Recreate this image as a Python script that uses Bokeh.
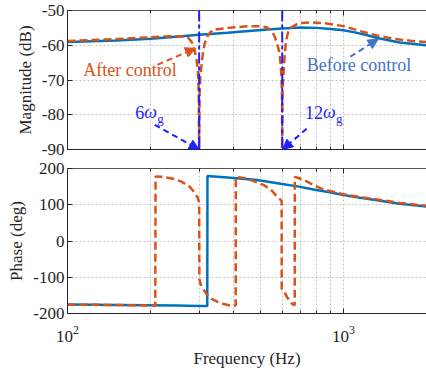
from bokeh.plotting import figure
from bokeh.models import (Range1d, LogAxis, FixedTicker, Span, Label, Arrow, NormalHead, CustomJSTickFormatter)
from bokeh.layouts import column
from bokeh.embed import file_html
from bokeh.resources import INLINE

# ---------------- data ----------------
freq_mag_before = [100, 150, 200, 235, 300, 380, 455, 530, 600, 700, 800, 900, 1000, 1100, 1200, 1340, 1600, 2000]
mag_before = [-59.1, -58.6, -58.1, -57.7, -57.0, -56.4, -55.9, -55.5, -55.2, -54.9, -55.0, -55.3, -55.7, -56.3, -57.0, -58.0, -59.2, -60.0]

freq_mag_after = [100, 150, 200, 235, 260, 275, 283, 289, 294, 297, 299, 300, 301, 303, 305, 309, 314, 322, 335, 380,
                  455, 500, 525, 540, 552, 562, 572, 583, 590, 596, 599, 600, 601, 604, 608, 613, 620, 630, 643, 690,
                  760, 860, 1000, 1160, 1340, 1540, 1750, 2000]
mag_after = [-58.8, -58.2, -57.7, -57.4, -57.5, -58.0, -59.3, -61.5, -64.5, -67.7, -74, -90, -74, -69, -66.8, -62.8, -59.5, -57.3, -55.6, -55.0,
             -54.5, -54.5, -54.8, -55.4, -56.2, -57.3, -59.0, -61.3, -64.0, -68.5, -75, -90, -75, -70.5, -67.0, -62.5, -58.6, -56.3, -55.0, -53.6,
             -53.4, -53.7, -54.5, -56.0, -57.3, -58.2, -58.7, -59.1]

freq_ph_before = [100, 150, 200, 250, 300, 321, 321.5, 370, 430, 487, 540, 600, 690, 780, 880, 1000, 1150, 1340, 1600, 2000]
ph_before = [-175.5, -176.3, -177.2, -178.0, -179.0, -179.5, 179.5, 176, 172, 168, 163, 157, 150, 142, 135, 127, 119, 112, 103, 95]

freq_ph_after = [100, 150, 200, 208, 208.5, 220, 241, 260, 277, 290, 297, 300, 300.5, 304, 310, 320, 332, 350, 365, 385,
                 407, 407.5, 437, 470, 515, 545, 568, 585, 597, 597.5, 610, 625, 640, 655, 666, 666.5, 690, 720, 780, 830,
                 900, 1000, 1150, 1340, 1600, 2000]
ph_after = [-175.5, -176.5, -178, -179, 178, 177, 172, 163, 150, 132, 118, 105, -105, -120, -132, -148, -159, -168, -173, -177,
            -178, 176, 174, 166, 154, 142, 127, 118, 110, -132, -140, -155, -167, -175, -177, 177, 173, 168, 154, 145,
            137, 129, 121, 114, 105, 97]

harmonic_freqs = [300, 600]
x_major_ticks = [100, 1000]
x_minor_ticks = [200, 300, 400, 500, 600, 700, 800, 900, 2000]
mag_ticks = [-90, -80, -70, -60, -50]
phase_ticks = [-200, -100, 0, 100, 200]

# ---------------- style ----------------
FONT = "Liberation Serif"
AX = "#262626"
BLUE = "#0072BD"
ORANGE = "#D95319"
MARK = "#1f1fff"
BEFORE_TXT = "#4472C4"
GRID = "#c4c4c4"

x_range = Range1d(100, 2000)


def style_axis(ax, labels=True):
    ax.major_label_text_font = FONT
    ax.major_label_text_color = AX
    ax.major_label_text_font_size = "17px"
    ax.axis_label_text_font = FONT
    ax.axis_label_text_font_size = "17px"
    ax.axis_label_text_font_style = "normal"
    ax.axis_label_text_color = AX
    ax.axis_line_color = AX
    ax.major_tick_in = 5
    ax.major_tick_out = 0
    ax.minor_tick_in = 3
    ax.minor_tick_out = 0
    ax.major_tick_line_color = AX
    ax.minor_tick_line_color = AX
    if not labels:
        ax.formatter = CustomJSTickFormatter(code="return ' ';")
        ax.major_label_text_font_size = "1px"
        ax.major_label_text_color = None
        ax.major_label_standoff = 0


def make_fig(height, y_range, yticks, ylabel, top, bottom, show_x_labels):
    p = figure(width=426, height=height, x_axis_type="log", x_range=x_range, y_range=y_range,
               output_backend="svg", toolbar_location=None,
               min_border_left=67, min_border_right=0, min_border_top=top, min_border_bottom=bottom)
    p.outline_line_color = None
    p.background_fill_color = "white"
    p.border_fill_color = "white"
    xt = FixedTicker(ticks=x_major_ticks, minor_ticks=x_minor_ticks)
    yt = FixedTicker(ticks=yticks, minor_ticks=[])
    bottom_ax = p.below[0]
    left_ax = p.left[0]
    bottom_ax.ticker = xt
    left_ax.ticker = yt
    p.xgrid.ticker = xt
    p.ygrid.ticker = yt
    for g in (p.xgrid, p.ygrid):
        g.grid_line_color = GRID
        g.grid_line_dash = "2 2"
        g.grid_line_width = 1
    p.xgrid.minor_grid_line_color = GRID
    p.xgrid.minor_grid_line_dash = "2 2"
    style_axis(bottom_ax, labels=show_x_labels)
    style_axis(left_ax)
    left_ax.formatter = CustomJSTickFormatter(code="return tick.toFixed(0);")
    left_ax.axis_label = ylabel
    left_ax.major_label_standoff = 3
    left_ax.axis_label_standoff = 4
    top_ax = LogAxis(ticker=xt)
    style_axis(top_ax, labels=False)
    top_ax.axis_line_color = "#555555"
    p.add_layout(top_ax, "above")
    return p, bottom_ax


# ---------------- magnitude ----------------
p1, _ = make_fig(158, Range1d(-90, -50), mag_ticks, "Magnitude (dB)", 10, 9, False)
p1.line(freq_mag_before, mag_before, line_color=BLUE, line_width=2.5)
p1.line(freq_mag_after, mag_after, line_color=ORANGE, line_width=2.5, line_dash="8 4")
for f in harmonic_freqs:
    p1.add_layout(Span(location=f, dimension="height", line_color=MARK, line_width=2, line_dash="11 3 4 3"))

p1.add_layout(Label(x=114, y=-67.0, text="After control", text_font=FONT, text_font_size="18px",
                    text_color=ORANGE, text_baseline="middle", text_align="left"))
p1.add_layout(Label(x=736, y=-65.8, text="Before control", text_font=FONT, text_font_size="18px",
                    text_color=BEFORE_TXT, text_baseline="middle", text_align="left"))

for fx, num, w in [(176, "6", 9), (725, "12", 18)]:
    p1.add_layout(Label(x=fx, y=-79.3, text=num, text_font=FONT, text_font_size="18px",
                        text_color=MARK, text_baseline="middle", text_align="left"))
    p1.add_layout(Label(x=fx, y=-79.3, x_offset=w, text="ω", text_font=FONT, text_font_size="18px",
                        text_font_style="italic", text_color=MARK, text_baseline="middle", text_align="left"))
    p1.add_layout(Label(x=fx, y=-79.3, x_offset=w + 13, y_offset=-6, text="g", text_font=FONT,
                        text_font_size="13px", text_color=MARK, text_baseline="middle", text_align="left"))

p1.add_layout(Arrow(end=NormalHead(size=10, fill_color=ORANGE, line_color=ORANGE),
                    x_start=212, y_start=-65.6, x_end=291, y_end=-60.9,
                    line_color=ORANGE, line_width=2, line_dash="6 4"))
p1.add_layout(Arrow(end=NormalHead(size=10, fill_color=BEFORE_TXT, line_color=BEFORE_TXT),
                    x_start=1059, y_start=-63.3, x_end=1336, y_end=-58.2,
                    line_color=BEFORE_TXT, line_width=2, line_dash="6 4"))
p1.add_layout(Arrow(end=NormalHead(size=10, fill_color=MARK, line_color=MARK),
                    x_start=207, y_start=-82.9, x_end=300, y_end=-90,
                    line_color=MARK, line_width=2, line_dash="6 4"))
p1.add_layout(Arrow(end=NormalHead(size=10, fill_color=MARK, line_color=MARK),
                    x_start=736, y_start=-84.0, x_end=602, y_end=-90,
                    line_color=MARK, line_width=2, line_dash="6 4"))

# ---------------- phase ----------------
p2, p2_bottom = make_fig(221, Range1d(-200, 200), phase_ticks, "Phase (deg)", 10, 66, True)
p2_bottom.axis_label = "Frequency (Hz)"
p2_bottom.major_label_standoff = 12
p2_bottom.axis_label_standoff = 4
p2.line(freq_ph_before, ph_before, line_color=BLUE, line_width=2.5)
p2.line(freq_ph_after, ph_after, line_color=ORANGE, line_width=2.5, line_dash="8 4")

layout = column(p1, p2, spacing=0)
open("out.html", "w").write(file_html(layout, INLINE))
